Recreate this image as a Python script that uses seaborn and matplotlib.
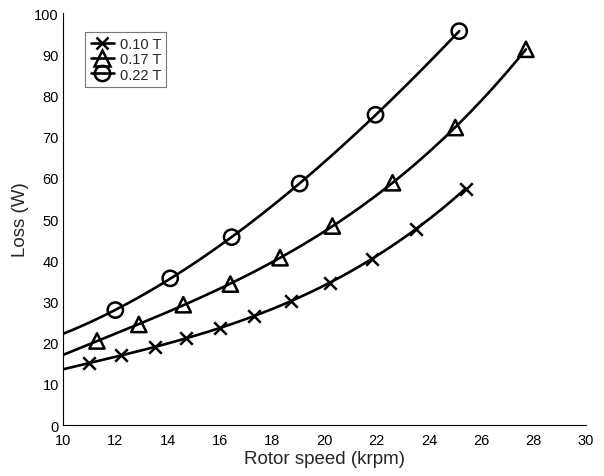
import numpy as np
import pandas as pd
import matplotlib
matplotlib.use("Agg")
import matplotlib.pyplot as plt
from matplotlib.lines import Line2D
import seaborn as sns

# Measured loss versus rotor speed for three flux densities
speed_010 = [11.0, 12.2, 13.5, 14.7, 16.0, 17.3, 18.7, 20.2, 21.8, 23.5, 25.4]
loss_010 = [15.0, 16.9, 18.9, 21.0, 23.6, 26.5, 30.0, 34.4, 40.4, 47.6, 57.4]

speed_017 = [11.3, 12.9, 14.6, 16.4, 18.3, 20.3, 22.6, 25.0, 27.7]
loss_017 = [20.4, 24.4, 29.2, 34.2, 40.6, 48.3, 58.8, 72.2, 91.2]

speed_022 = [12.0, 14.1, 16.45, 19.05, 21.95, 25.15]
loss_022 = [27.9, 35.6, 45.6, 58.6, 75.3, 95.6]

labels = ["0.10 T", "0.17 T", "0.22 T"]
markers = ["x", "^", "o"]
marker_sizes = [9, 11, 11]

sns.set_style("white")
plt.rcParams["font.family"] = ["Liberation Sans", "DejaVu Sans"]

fig = plt.figure(figsize=(6.04, 4.77), dpi=100)
ax = fig.add_axes([0.1043, 0.1069, 0.866, 0.8637])

series = [(speed_010, loss_010), (speed_017, loss_017), (speed_022, loss_022)]
handles = []
for (xs, ys), lab, mk, ms in zip(series, labels, markers, marker_sizes):
    df = pd.DataFrame({"speed": xs, "loss": ys})
    # smooth trend through the measured points, drawn from the 10 krpm axis edge
    coef = np.polyfit(df["speed"], df["loss"], 3)
    grid = np.linspace(10, df["speed"].iloc[-1], 200)
    fit = pd.DataFrame({"speed": grid, "loss": np.polyval(coef, grid)})
    sns.lineplot(data=fit, x="speed", y="loss", ax=ax, color="black",
                 linewidth=1.9, estimator=None, sort=False)
    # 'x' is an unfilled marker, so its stroke comes from the face colour
    face = "black" if mk == "x" else "none"
    sns.scatterplot(data=df, x="speed", y="loss", ax=ax, marker=mk,
                    s=ms ** 2, facecolor=face, edgecolor="black",
                    linewidth=1.8, zorder=3)
    handles.append(Line2D([0], [0], color="black", linewidth=1.9, marker=mk,
                          markersize=ms, markerfacecolor="none",
                          markeredgecolor="black", markeredgewidth=1.8))

ax.set_xlim(10, 30)
ax.set_ylim(0, 100)
ax.set_xticks(np.arange(10, 31, 2))
ax.set_yticks(np.arange(0, 101, 10))
ax.tick_params(direction="in", length=4, width=0.8, labelsize=10.5,
               colors="black")
ax.tick_params(axis="x", pad=6)
ax.tick_params(axis="y", pad=3)
for side in ["top", "right"]:
    ax.spines[side].set_visible(False)
for side in ["left", "bottom"]:
    ax.spines[side].set_color("black")
    ax.spines[side].set_linewidth(0.8)

ax.set_xlabel("Rotor speed (krpm)", fontsize=13.5, labelpad=2)
ax.set_ylabel("Loss (W)", fontsize=13.5, labelpad=4)

leg = ax.legend(handles, labels, loc="upper left", bbox_to_anchor=(0.043, 0.955),
                fontsize=10.5, frameon=True, fancybox=False, handlelength=1.6,
                handletextpad=0.4, borderpad=0.35, labelspacing=0.1,
                borderaxespad=0)
leg.get_frame().set_edgecolor("#555555")
leg.get_frame().set_linewidth(0.8)

fig.savefig("out.png", dpi=100)
